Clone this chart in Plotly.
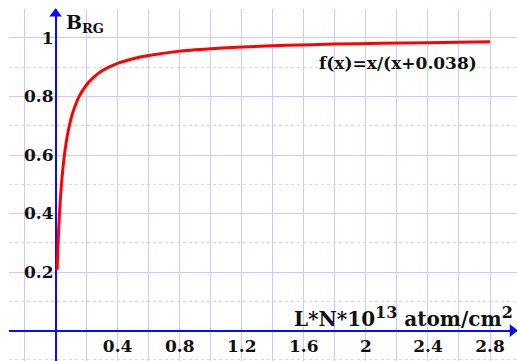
import plotly.graph_objects as go

# Data
x_vals = [0.01, 0.02, 0.03, 0.04, 0.05, 0.06, 0.08, 0.1, 0.12, 0.15, 0.2, 0.25,
          0.3, 0.4, 0.5, 0.6, 0.8, 1.0, 1.2, 1.5, 1.8, 2.1, 2.4, 2.8]
y_vals = [0.208, 0.345, 0.441, 0.513, 0.568, 0.612, 0.678, 0.725, 0.759, 0.798,
          0.840, 0.868, 0.888, 0.913, 0.929, 0.940, 0.955, 0.963, 0.969, 0.975,
          0.979, 0.982, 0.984, 0.987]
x_ticks = [0.4, 0.8, 1.2, 1.6, 2.0, 2.4, 2.8]
x_tick_labels = ["0.4", "0.8", "1.2", "1.6", "2", "2.4", "2.8"]
y_ticks = [0.2, 0.4, 0.6, 0.8, 1.0]
y_tick_labels = ["0.2", "0.4", "0.6", "0.8", "1"]
equation = "f(x)=x/(x+0.038)"
x_title = ("L*N*10<sup><span style='font-size:16px'>13</span></sup> atom/cm"
           "<sup><span style='font-size:16px'>2</span></sup>")
y_title = "B<sub><span style='font-size:13px'>RG</span></sub>"

XR = [-0.30, 2.974]
YR = [-0.104, 1.099]
FONT = "DejaVu Serif"
GRID = "#c9c9fb"
AXIS = "#0a0aff"
TXT = "#111111"

fig = go.Figure()
fig.add_trace(go.Scatter(x=x_vals, y=y_vals, mode="lines",
                         line=dict(color="#ff0000", width=3, shape="spline", smoothing=0.6),
                         hoverinfo="skip", showlegend=False))
# axis arrowheads
fig.add_trace(go.Scatter(x=[0], y=[1.083], mode="markers", cliponaxis=False,
                         marker=dict(symbol="triangle-up", size=11, color=AXIS),
                         showlegend=False, hoverinfo="skip"))
fig.add_trace(go.Scatter(x=[2.945], y=[0], mode="markers", cliponaxis=False,
                         marker=dict(symbol="triangle-right", size=11, color=AXIS),
                         showlegend=False, hoverinfo="skip"))

xpos = (0 - YR[0]) / (YR[1] - YR[0])
ypos = (0 - XR[0]) / (XR[1] - XR[0])

tick_font = dict(family=FONT, size=17, color=TXT, weight="bold")

fig.update_xaxes(range=XR, anchor="free", position=xpos,
                 tickvals=x_ticks, ticktext=x_tick_labels,
                 showgrid=True, gridcolor=GRID, gridwidth=1,
                 zeroline=True, zerolinecolor=AXIS, zerolinewidth=1.6,
                 showline=False, ticks="", ticklabelstandoff=3,
                 tickfont=tick_font,
                 minor=dict(dtick=0.2, tick0=0, showgrid=True, gridcolor=GRID, gridwidth=1),
                 automargin=False, fixedrange=True)
fig.update_yaxes(range=YR, anchor="free", position=ypos,
                 tickvals=y_ticks, ticktext=y_tick_labels,
                 showgrid=True, gridcolor=GRID, gridwidth=1,
                 zeroline=True, zerolinecolor=AXIS, zerolinewidth=1.6,
                 showline=False, ticks="", ticklabelstandoff=2,
                 tickfont=tick_font,
                 minor=dict(dtick=0.1, tick0=0, showgrid=True, gridcolor="#d6d6fb",
                            gridwidth=1, griddash="dot"),
                 automargin=False, fixedrange=True)

fig.add_annotation(x=2.205, y=0.915, text="<b>" + equation + "</b>", showarrow=False,
                   xanchor="center", yanchor="middle",
                   font=dict(family=FONT, size=17, color=TXT))
fig.add_annotation(x=2.958, y=0.048, text="<b>" + x_title + "</b>", showarrow=False,
                   xanchor="right", yanchor="middle",
                   font=dict(family=FONT, size=20, color=TXT))
fig.add_annotation(x=0.055, y=1.051, text="<b>" + y_title + "</b>", showarrow=False,
                   xanchor="left", yanchor="middle",
                   font=dict(family=FONT, size=19, color=TXT))

fig.update_layout(width=517, height=361,
                  margin=dict(l=9, r=0, t=9, b=0),
                  plot_bgcolor="white", paper_bgcolor="white")
fig.write_html("out.html", config={"displayModeBar": False},
               post_script="document.body.style.margin='0';document.body.style.overflow='hidden';")
